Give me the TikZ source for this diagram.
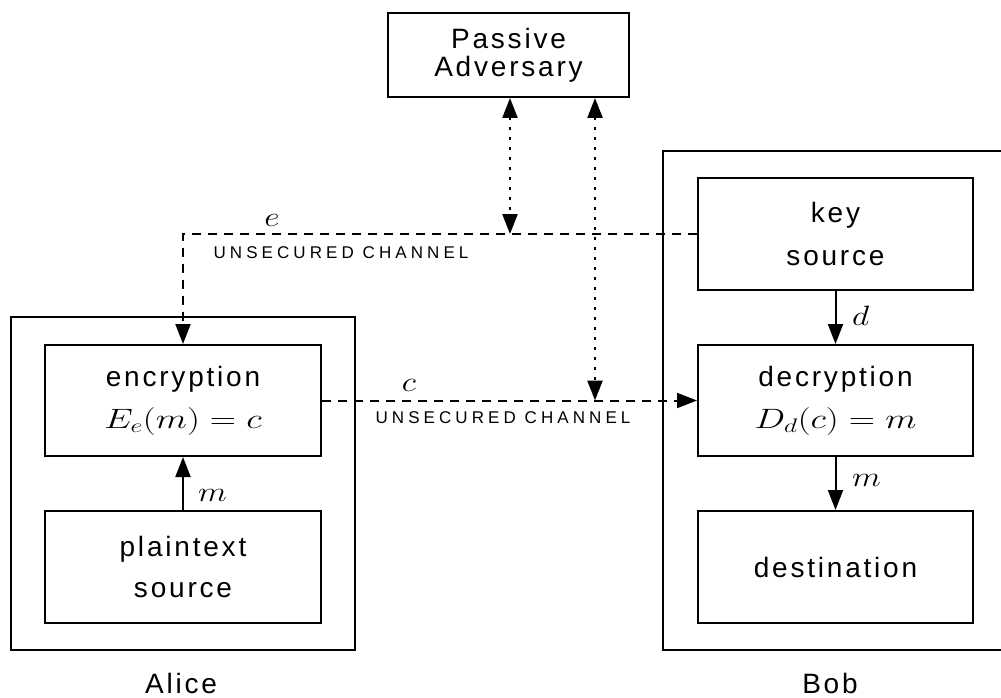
\RequirePackage{fix-cm}
\documentclass[tikz,border=0pt]{standalone}
\usepackage{fontspec}
\setmainfont{Liberation Sans}[LetterSpace=10]
\newfontfamily\chanfont{Liberation Sans}[LetterSpace=24]
\usepackage{graphicx}
\usetikzlibrary{arrows.meta}

\newcommand{\wmath}[1]{\scalebox{1.3}[1]{$#1$}}
\newcommand{\wsym}[1]{\scalebox{1.2}[1]{$#1$}}

\begin{document}
\begin{tikzpicture}[x=1pt,y=-1pt,
  box/.style={draw, line width=2pt, inner sep=0pt, align=center,
              font=\fontsize{28}{42}\selectfont},
  frame/.style={draw, line width=2pt, inner sep=0pt},
  tip/.style={-{Triangle[length=20pt,width=15pt]}},
  flow/.style={line width=2pt, tip},
  chan/.style={line width=2pt, dash pattern=on 9pt off 7pt, tip},
  tap/.style={line width=2.4pt, dash pattern=on 2.5pt off 7.5pt,
              {Triangle[length=20pt,width=15pt]}-{Triangle[length=20pt,width=15pt]}},
  lbl/.style={inner sep=0pt, font=\fontsize{28}{30}\selectfont},
  chanlbl/.style={inner sep=0pt, font=\fontsize{17}{18}\selectfont\chanfont},
  who/.style={inner sep=0pt, font=\fontsize{28}{30}\selectfont}
]
\useasboundingbox (0,0) rectangle (1001,698);
\clip (0,0) rectangle (1001,698);

% outer frames of the two parties
\node[frame, minimum width=344pt, minimum height=333pt] (alice) at (183,483.5) {};
\node[frame, minimum width=340pt, minimum height=499pt] (bob) at (833,400.5) {};

% adversary
\node[box, font=\fontsize{28}{28}\selectfont, minimum width=241pt, minimum height=84pt]
  (adv) at (508.5,55) {Passive\\Adversary};

% Alice's side
\node[box, minimum width=276pt, minimum height=111pt] (enc) at (183,400.5)
  {encryption\\\wmath{E_e(m)=c}};
\node[box, font=\fontsize{28}{41}\selectfont, minimum width=276pt, minimum height=112pt]
  (plain) at (183,567) {plaintext\\source};

% Bob's side
\node[box, font=\fontsize{28}{43}\selectfont, minimum width=275pt, minimum height=112pt]
  (key) at (835.5,234) {key\\source};
\node[box, minimum width=275pt, minimum height=111pt] (dec) at (835.5,400.5)
  {decryption\\\wmath{D_d(c)=m}};
\node[box, minimum width=275pt, minimum height=112pt] (dest) at (835.5,567)
  {destination};

% local flows
\draw[flow] (plain.north) -- (enc.south);
\draw[flow] (key.south) -- (dec.north);
\draw[flow] (dec.south) -- (dest.north);

% unsecured channels
\coordinate (ecorner) at (183,234);
\draw[chan] (key.west |- ecorner) -- (ecorner) -- (enc.north);
\draw[chan] (enc.east) -- (dec.west);

% eavesdropping taps
\coordinate (etap) at (510,234);
\coordinate (ctap) at (595,400.5);
\draw[tap] (adv.south -| etap) -- (etap);
\draw[tap] (adv.south -| ctap) -- (ctap);

% labels
\node[lbl] (elbl) at (272,220) {\wsym{e}};
\node[chanlbl] (ch1) at (341,253) {UNSECURED CHANNEL};
\node[lbl] (clbl) at (409,385) {\wsym{c}};
\node[chanlbl] (ch2) at (503,418) {UNSECURED CHANNEL};
\node[lbl, anchor=west] (mlbl) at (198,495) {\wsym{m}};
\node[lbl, anchor=west] (dlbl) at (852,316) {\wsym{d}};
\node[lbl, anchor=west] (m2lbl) at (852,480) {\wsym{m}};

\node[who] (alicelbl) at (181,683) {Alice};
\node[who] (boblbl) at (830,683) {Bob};
\end{tikzpicture}
\end{document}
